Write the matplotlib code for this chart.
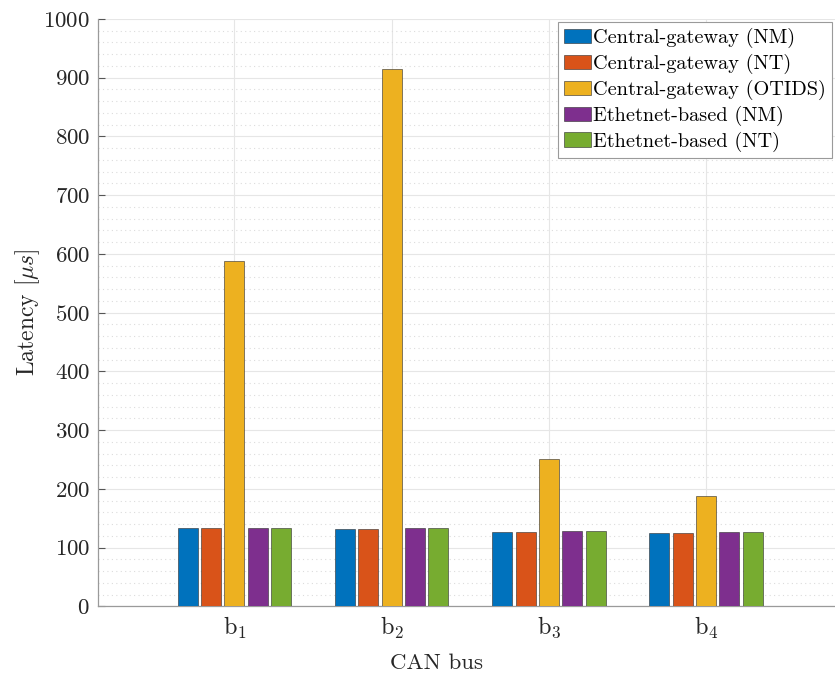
import numpy as np
import matplotlib
matplotlib.use("Agg")
import matplotlib.pyplot as plt
from matplotlib.ticker import MultipleLocator

buses = ["$\\mathrm{b}_1$", "$\\mathrm{b}_2$", "$\\mathrm{b}_3$", "$\\mathrm{b}_4$"]
series = ["Central-gateway (NM)", "Central-gateway (NT)",
          "Central-gateway (OTIDS)", "Ethetnet-based (NM)",
          "Ethetnet-based (NT)"]
cg_nm = [134, 132, 126, 124]
cg_nt = [134, 132, 126, 125]
cg_otids = [588, 915, 251, 188]
eth_nm = [134, 133, 128, 127]
eth_nt = [134, 133, 128, 127]
colors = ["#0072BD", "#D95319", "#EDB120", "#7E2F8E", "#77AC30"]

plt.rcParams["font.family"] = "serif"
plt.rcParams["font.serif"] = ["cmr10"]
plt.rcParams["mathtext.fontset"] = "cm"
plt.rcParams["axes.formatter.use_mathtext"] = True
plt.rcParams["axes.unicode_minus"] = False

fig = plt.figure(figsize=(8.35, 6.76), dpi=100)
ax = fig.add_axes([0.1177, 0.1031, 0.8823, 0.8688])

x = np.arange(1, len(buses) + 1)
slot = 0.1485
width = 0.127
for i, (vals, name, c) in enumerate(zip([cg_nm, cg_nt, cg_otids, eth_nm, eth_nt],
                                         series, colors)):
    ax.bar(x + (i - 2) * slot, vals, width, color=c, label=name,
           edgecolor=(0.2, 0.2, 0.2, 0.7), linewidth=0.6, zorder=3)

ax.set_xlim(0.134, 4.82)
ax.set_ylim(0, 1000)
ax.set_xticks(x)
ax.set_xticklabels(buses, fontsize=17.5)
ax.yaxis.set_major_locator(MultipleLocator(100))
ax.yaxis.set_minor_locator(MultipleLocator(20))

ax.grid(True, which="major", color="#e6e6e6", linewidth=0.8, zorder=0)
ax.grid(True, which="minor", axis="y", color="#dcdcdc", linestyle=(0, (1, 3)),
        linewidth=0.8, zorder=0)
ax.set_axisbelow(True)

for s in ["top", "right"]:
    ax.spines[s].set_visible(False)
for s in ["left", "bottom"]:
    ax.spines[s].set_color("#9a9a9a")
    ax.spines[s].set_linewidth(0.9)

ax.tick_params(axis="y", which="major", labelsize=16.5)
ax.tick_params(axis="both", which="major", direction="in", length=5,
               color="#555555", labelcolor="#262626", pad=6)
ax.tick_params(axis="both", which="minor", length=0)

ax.set_ylabel("Latency [$\\mu s$]", fontsize=17, color="#262626", labelpad=1)
fig.text(437 / 835, 1 - 663 / 676, "CAN bus", fontsize=16.5, color="#262626",
         ha="center", va="center")

leg = ax.legend(loc="upper right", fontsize=14.6, frameon=True, fancybox=False,
                edgecolor="#9a9a9a", framealpha=1, borderaxespad=0.15,
                handlelength=1.3, handleheight=0.7, handletextpad=0.12,
                labelspacing=0.28, borderpad=0.3)
leg.get_frame().set_linewidth(0.8)

fig.savefig("out.png", dpi=100)
